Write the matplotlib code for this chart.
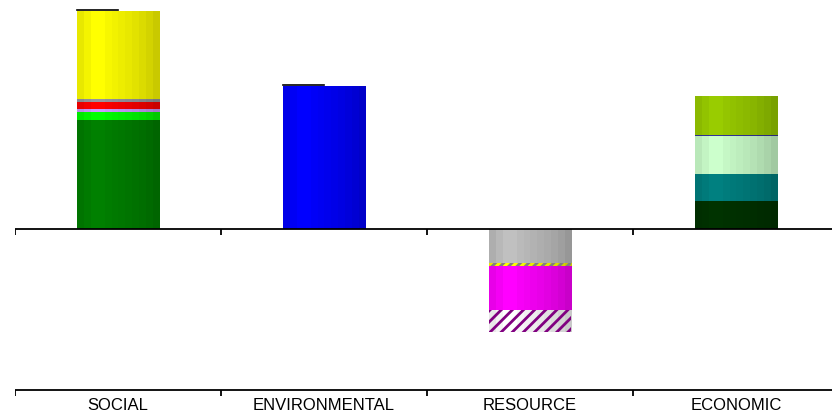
import numpy as np
from matplotlib import pyplot as plt

categories = ["SOCIAL", "ENVIRONMENTAL", "RESOURCE", "ECONOMIC"]

# stacked segments per category, bottom to top (resource goes below zero)
social_values = [109, 8, 3, 7, 3, 88]
social_colors = ["#008000", "#00ff00", "#cc99ff", "#ff0000", "#9696a0", "#ffff00"]
environmental_values = [143]
environmental_colors = ["#0000ff"]
resource_values = [-34, -3, -44, -22]
resource_colors = ["#c0c0c0", "#ffff00", "#ff00ff", "#ffffff"]
resource_hatch = [None, "////", None, "///"]
resource_hatch_colors = [None, "#808080", None, "#800080"]
economic_values = [28, 27, 38, 1.5, 39]
economic_colors = ["#003300", "#008080", "#ccffcc", "#333399", "#99cc00"]

# brightness across the bar width, imitating the old cylinder-like shading
shade = np.array([0.91, 0.96, 1.0, 1.0, 0.97, 0.95, 0.93, 0.91, 0.89, 0.86, 0.83, 0.79])

plt.rcParams["hatch.linewidth"] = 2.0
fig = plt.figure(figsize=(8.32, 4.14), dpi=100)
ax = fig.add_axes([15 / 832, 0, 1 - 15 / 832, 1])

bar_width = 0.4


def draw_stack(x, values, colors, hatches=None, hatch_colors=None):
    values = np.array(values, dtype=float)
    tops = np.cumsum(values)
    bottoms = tops - values
    bars = ax.bar([x] * len(values), values, bottom=bottoms, width=bar_width,
                  color=colors, linewidth=0)
    for i, patch in enumerate(bars.patches):
        rgb = np.array(plt.matplotlib.colors.to_rgb(colors[i]))
        img = (shade[:, None] * rgb[None, :])[None, :, :]
        x0, y0 = patch.get_x(), patch.get_y()
        w, h = patch.get_width(), patch.get_height()
        ax.imshow(img, extent=[x0, x0 + w, min(y0, y0 + h), max(y0, y0 + h)],
                  aspect="auto", interpolation="nearest", zorder=2)
        if hatches and hatches[i]:
            ax.add_patch(plt.Rectangle((x0, y0), w, h, fill=False, hatch=hatches[i],
                                       edgecolor=hatch_colors[i], linewidth=0, zorder=3))
    return tops


social_tops = draw_stack(0, social_values, social_colors)
env_tops = draw_stack(1, environmental_values, environmental_colors)
res_tops = draw_stack(2, resource_values, resource_colors, resource_hatch, resource_hatch_colors)
eco_tops = draw_stack(3, economic_values, economic_colors)

# short dark edge on the top of the positive bars
for x, top in [(0, social_tops[-1]), (1, env_tops[-1])]:
    ax.plot([x - bar_width / 2, x], [top + 1, top + 1], color="black", lw=1.2, zorder=4)

# zero line and lower category axis, both with ticks at category boundaries
bottom_line = -161
bounds = np.arange(len(categories)) - 0.5
for y in [0, bottom_line]:
    ax.axhline(y, color="black", lw=1.3, zorder=5)
    ax.vlines(bounds, y - 6, y, color="black", lw=1.3, zorder=5)

for i, name in enumerate(categories):
    ax.text(i, -176, name, ha="center", va="center", fontsize=12,
            family="Liberation Sans")

ax.set_xlim(-0.5, -0.5 + 817 / 206)
ax.set_ylim(-184, 230)
ax.axis("off")

fig.savefig("out.png", dpi=100)
